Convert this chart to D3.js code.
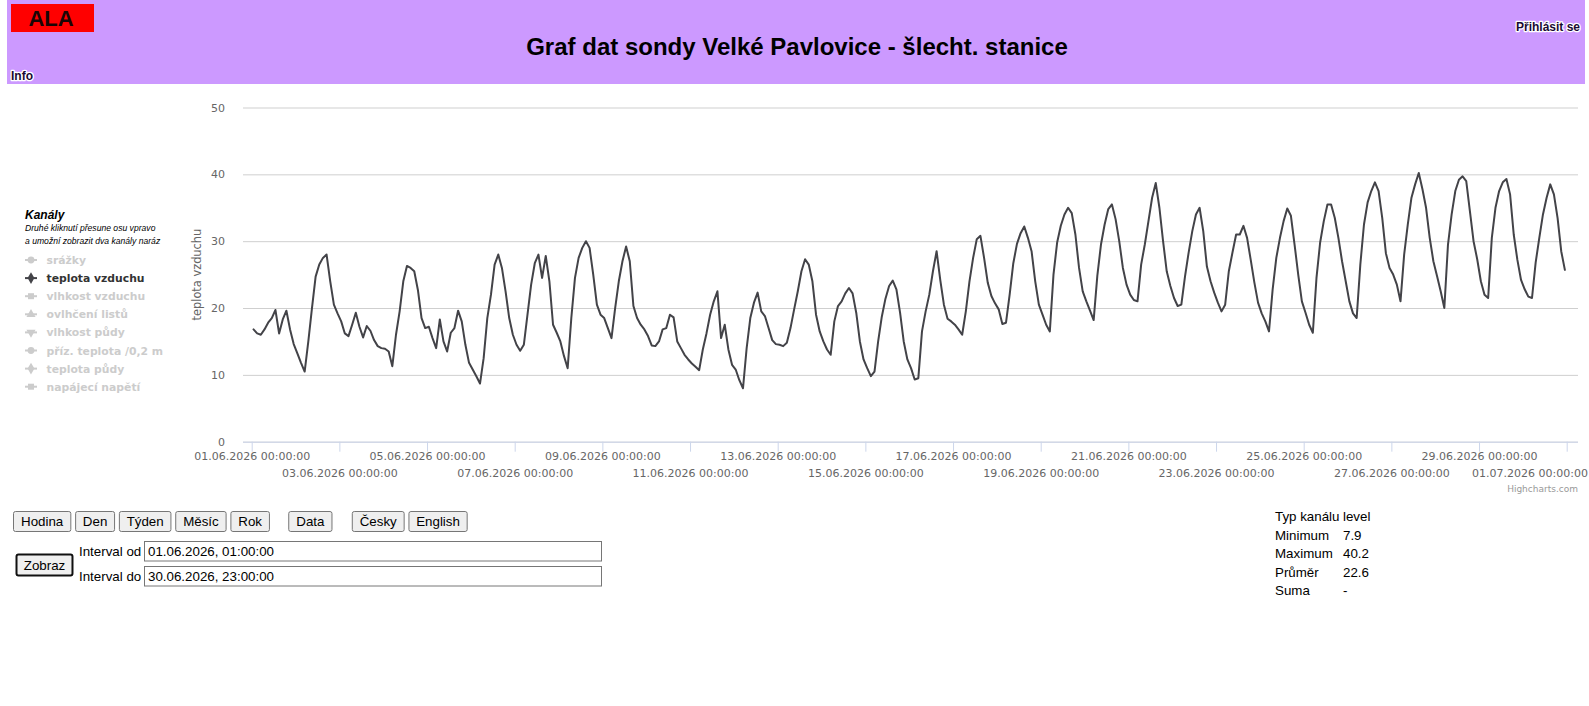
<!DOCTYPE html>
<html>
<head>
<meta charset="utf-8">
<script src="https://cdn.jsdelivr.net/npm/d3@7"></script>
<style>
html, body { margin: 0; padding: 0; background: #fff; overflow: hidden; }
</style>
</head>
<body>
<svg id="page" width="1589" height="706"></svg>
<script>
var stationCode = "ALA";
var pageTitle = "Graf dat sondy Velké Pavlovice - šlecht. stanice";
var channels = ["srážky", "teplota vzduchu", "vlhkost vzduchu", "ovlhčení listů", "vlhkost půdy", "příz. teplota /0,2 m", "teplota půdy", "napájecí napětí"];
var channelSymbols = ["circle", "diamond", "square", "triangle", "triangle-down", "circle", "diamond", "square"];
var activeChannel = 1;
var legendNote = ["Druhé kliknutí přesune osu vpravo", "a umožní zobrazit dva kanály naráz"];
var yTicks = [0, 10, 20, 30, 40, 50];
var periodButtons = ["Hodina", "Den", "Týden", "Měsíc", "Rok"];
var dataButtons = ["Data"];
var langButtons = ["Česky", "English"];
var intervalLabels = ["Interval od", "Interval do"];
var intervalValues = ["01.06.2026, 01:00:00", "30.06.2026, 23:00:00"];
var statLabels = ["Typ kanálu", "Minimum", "Maximum", "Průměr", "Suma"];
var statValues = ["level", "7.9", "40.2", "22.6", "-"];

// air temperature, every 2 hours from 01.06.2026 01:00 (one row per day)
var temps = [
  16.8,16.2,16.0,16.8,17.8,18.5,19.7,16.2,18.3,19.6,16.8,14.6,
  13.2,11.8,10.5,15.0,20.0,24.7,26.5,27.5,28.0,24.0,20.5,19.2,
  18.0,16.2,15.8,17.5,19.3,17.2,15.6,17.3,16.6,15.2,14.3,14.0,
  13.9,13.5,11.3,16.0,19.5,24.0,26.3,26.0,25.5,22.7,18.5,17.0,
  17.2,15.5,14.0,18.3,15.0,13.5,16.3,17.0,19.6,18.0,14.5,11.8,
  10.8,9.8,8.7,12.5,18.5,22.0,26.5,28.0,26.0,22.5,18.5,16.0,
  14.5,13.6,14.5,19.0,23.5,26.7,28.0,24.5,27.8,24.0,17.5,16.3,
  15.0,12.8,11.0,18.5,24.5,27.5,29.0,30.0,29.0,25.0,20.5,19.0,
  18.5,17.0,15.5,20.0,24.0,27.0,29.2,27.0,20.3,18.5,17.5,16.8,
  15.8,14.4,14.3,15.0,16.8,17.0,19.0,18.6,15.0,14.0,13.0,12.3,
  11.7,11.2,10.7,13.8,16.2,19.0,21.0,22.5,15.5,17.5,13.8,11.5,
  10.8,9.2,8.0,14.0,18.5,20.8,22.3,19.5,18.8,17.0,15.2,14.6,
  14.5,14.3,14.8,17.0,19.8,22.5,25.5,27.3,26.5,24.0,19.0,16.5,
  15.0,13.8,13.0,18.0,20.3,21.0,22.2,23.0,22.2,19.3,15.0,12.3,
  11.0,9.8,10.5,15.0,18.7,21.4,23.3,24.1,22.8,19.3,15.0,12.3,
  11.0,9.3,9.5,16.5,19.5,22.0,25.5,28.5,24.2,20.5,18.4,18.0,
  17.5,16.8,16.0,19.5,24.0,27.5,30.3,30.8,27.5,23.8,21.8,20.7,
  19.8,17.6,17.8,22.0,26.7,29.6,31.2,32.2,30.5,28.5,24.0,20.5,
  19.0,17.5,16.5,25.0,29.8,32.3,34.0,35.0,34.2,31.0,26.0,22.5,
  21.0,19.6,18.2,24.8,29.5,32.5,34.8,35.5,33.3,30.0,26.0,23.5,
  22.0,21.2,21.0,26.5,29.5,33.0,36.5,38.7,35.0,30.0,25.5,23.3,
  21.5,20.3,20.5,24.7,28.3,31.5,34.0,35.0,31.5,26.2,24.0,22.3,
  20.8,19.5,20.5,25.5,28.3,31.0,31.0,32.3,30.5,27.2,23.8,20.8,
  19.2,18.0,16.5,22.8,27.5,30.5,33.0,34.9,33.8,29.5,25.0,21.0,
  19.3,17.5,16.3,24.5,29.8,33.0,35.5,35.5,33.5,30.5,27.0,24.0,
  21.0,19.2,18.5,26.5,32.5,35.8,37.5,38.8,37.5,33.5,28.2,26.0,
  25.0,23.5,21.0,28.0,32.5,36.5,38.5,40.2,37.8,35.0,30.5,27.0,
  24.8,22.5,20.0,29.5,34.0,37.5,39.2,39.7,39.0,34.5,30.0,27.3,
  24.0,22.0,21.5,30.5,35.0,37.5,38.8,39.3,37.0,31.0,27.2,24.2,
  22.8,21.7,21.5,26.8,30.5,34.0,36.5,38.5,37.0,33.5,28.5,25.7
];

var F_UI = "'Liberation Sans', Arial, sans-serif";
var F_HC = "'DejaVu Sans', sans-serif";
var svg = d3.select("#page");

// ---- header band
var head = svg.append("g");
head.append("rect").attr("x", 7).attr("y", 0).attr("width", 1578).attr("height", 84).attr("fill", "#cc99ff");
head.append("rect").attr("x", 11).attr("y", 4).attr("width", 83).attr("height", 28).attr("fill", "#ff0000");
head.append("text").attr("x", 51).attr("y", 26).attr("text-anchor", "middle")
  .style("font", "bold 22px " + F_UI).attr("fill", "#1a0505").text(stationCode);
head.append("text").attr("x", 797).attr("y", 55).attr("text-anchor", "middle")
  .style("font", "bold 24px " + F_UI).attr("fill", "#000").text(pageTitle);
function halo(sel) {
  return sel.style("font", "bold 12px " + F_UI).attr("fill", "#1a0a33")
    .attr("stroke", "#fff").attr("stroke-width", 2.5).attr("stroke-linejoin", "round")
    .style("paint-order", "stroke");
}
halo(head.append("text").attr("x", 11).attr("y", 80).text("Info"));
halo(head.append("text").attr("x", 1580).attr("y", 31).attr("text-anchor", "end").text("Přihlásit se"));

// ---- chart
var plotLeft = 243, plotRight = 1578;
var start = Date.UTC(2026, 5, 1), end = Date.UTC(2026, 6, 1);
var x = d3.scaleUtc().domain([start, end]).range([251.7, 1566.7]);
var y = d3.scaleLinear().domain([0, 50]).range([441.7, 107.5]);

var series = temps.map(function(v, i) {
  return { t: new Date(start + (1 + 2 * i) * 3600e3), v: v };
});

var chart = svg.append("g");
chart.selectAll("line.grid").data(yTicks).enter().append("line")
  .attr("class", "grid")
  .attr("x1", plotLeft).attr("x2", plotRight)
  .attr("y1", function(d) { return y(d) + 0.5; }).attr("y2", function(d) { return y(d) + 0.5; })
  .attr("stroke", "#cfcfcf").attr("stroke-width", 1);

chart.selectAll("text.ylab").data(yTicks).enter().append("text")
  .attr("class", "ylab")
  .attr("x", 225).attr("y", function(d) { return y(d) + 4; })
  .attr("text-anchor", "end").style("font", "11px " + F_HC).attr("fill", "#666")
  .text(function(d) { return d; });

chart.append("text")
  .attr("transform", "translate(201," + ((y(0) + y(50)) / 2) + ") rotate(-90)")
  .attr("text-anchor", "middle").style("font", "11.4px " + F_HC).attr("fill", "#666")
  .text(channels[activeChannel]);

// x axis
chart.append("line").attr("x1", plotLeft).attr("x2", plotRight)
  .attr("y1", y(0) + 0.5).attr("y2", y(0) + 0.5).attr("stroke", "#ccd6eb");
var xTicks = d3.utcDay.range(new Date(start), new Date(end + 1), 2);
var fmt = d3.utcFormat("%d.%m.%Y %H:%M:%S");
var xAxis = chart.append("g").attr("transform", "translate(0," + y(0) + ")")
  .call(d3.axisBottom(x).tickValues(xTicks).tickSize(10).tickFormat(fmt));
xAxis.select(".domain").remove();
xAxis.selectAll(".tick line").attr("stroke", "#ccd6eb");
xAxis.selectAll(".tick text")
  .style("font", "11px " + F_HC).attr("fill", "#666")
  .attr("dy", null)
  .attr("y", function(d, i) { return i % 2 ? 35.5 : 18.5; })
  .each(function() {
    var bb = this.getBBox();
    var tx = +d3.select(this.parentNode).attr("transform").match(/translate\(([^,]+)/)[1];
    if (tx + bb.width / 2 > 1588) d3.select(this).attr("text-anchor", "end").attr("x", 1588 - tx);
  });

chart.append("path").datum(series)
  .attr("d", d3.line().x(function(d) { return x(d.t); }).y(function(d) { return y(d.v); }))
  .attr("fill", "none").attr("stroke", "#434348").attr("stroke-width", 2)
  .attr("stroke-linejoin", "round").attr("stroke-linecap", "round");

chart.append("text").attr("x", 1578).attr("y", 492).attr("text-anchor", "end")
  .style("font", "9px " + F_HC).attr("fill", "#999").text("Highcharts.com");

// ---- legend
var legend = svg.append("g");
legend.append("text").attr("x", 25).attr("y", 219)
  .style("font", "italic bold 12px " + F_UI).attr("fill", "#000").text("Kanály");
legend.selectAll("text.note").data(legendNote).enter().append("text")
  .attr("class", "note").attr("x", 25).attr("y", function(d, i) { return 230.5 + i * 13; })
  .style("font", "italic 8.6px " + F_UI).attr("fill", "#000").text(function(d) { return d; });

var symbolMap = {
  "circle": d3.symbolCircle, "diamond": d3.symbolDiamond, "square": d3.symbolSquare,
  "triangle": d3.symbolTriangle, "triangle-down": d3.symbolTriangle
};
var item = legend.selectAll("g.item").data(channels).enter().append("g")
  .attr("class", "item")
  .attr("transform", function(d, i) { return "translate(0," + (260 + i * 18.1) + ")"; });
item.append("line").attr("x1", 25).attr("x2", 37).attr("y1", 0).attr("y2", 0)
  .attr("stroke-width", 2)
  .attr("stroke", function(d, i) { return i === activeChannel ? "#434348" : "#cccccc"; });
item.append("path")
  .attr("d", function(d, i) { return d3.symbol().type(symbolMap[channelSymbols[i]]).size(channelSymbols[i] === "diamond" ? 40 : 36)(); })
  .attr("transform", function(d, i) { return "translate(31,0)" + (channelSymbols[i] === "triangle-down" ? " rotate(180)" : ""); })
  .attr("fill", function(d, i) { return i === activeChannel ? "#434348" : "#cccccc"; });
item.append("text").attr("x", 46.5).attr("y", 4)
  .style("font", "bold 10.8px " + F_HC)
  .attr("fill", function(d, i) { return i === activeChannel ? "#333333" : "#cccccc"; })
  .text(function(d) { return d; });

// ---- controls
var ctrl = svg.append("g");
function button(g, label, x0, y0, h, focused) {
  var t = g.append("text").attr("x", x0).attr("y", y0 + h / 2 + 4.7)
    .style("font", "13.33px " + F_UI).attr("fill", "#000").text(label);
  var w = t.node().getBBox().width + 15.5;
  g.insert("rect", "text").attr("x", x0 + 0.5).attr("y", y0 + 0.5).attr("width", w - 1).attr("height", h - 1)
    .attr("rx", 2).attr("fill", "#efefef")
    .attr("stroke", focused ? "#101010" : "#767676").attr("stroke-width", focused ? 2 : 1);
  t.attr("text-anchor", "middle").attr("x", x0 + w / 2);
  return x0 + w;
}
var bx = 13;
periodButtons.forEach(function(b) { bx = button(ctrl.append("g"), b, bx, 511, 21) + 3.8; });
bx += 14.5;
dataButtons.forEach(function(b) { bx = button(ctrl.append("g"), b, bx, 511, 21) + 3.8; });
bx += 15.5;
langButtons.forEach(function(b) { bx = button(ctrl.append("g"), b, bx, 511, 21) + 3.8; });

button(ctrl.append("g"), "Zobraz", 16, 554, 22, true);
intervalLabels.forEach(function(lab, i) {
  var yy = 541 + i * 25;
  ctrl.append("text").attr("x", 79).attr("y", yy + 15).style("font", "13.33px " + F_UI)
    .attr("fill", "#000").text(lab);
  ctrl.append("rect").attr("x", 144.5).attr("y", yy + 0.5).attr("width", 457).attr("height", 19.5)
    .attr("fill", "#fff").attr("stroke", "#767676");
  ctrl.append("text").attr("x", 148).attr("y", yy + 15).style("font", "13.33px " + F_UI)
    .attr("fill", "#000").text(intervalValues[i]);
});

// ---- statistics
var stats = svg.append("g");
statLabels.forEach(function(lab, i) {
  var yy = 521 + i * 18.6;
  stats.append("text").attr("x", 1275).attr("y", yy).style("font", "13.33px " + F_UI).attr("fill", "#000").text(lab);
  stats.append("text").attr("x", 1343).attr("y", yy).style("font", "13.33px " + F_UI).attr("fill", "#000").text(statValues[i]);
});
</script>
</body>
</html>
